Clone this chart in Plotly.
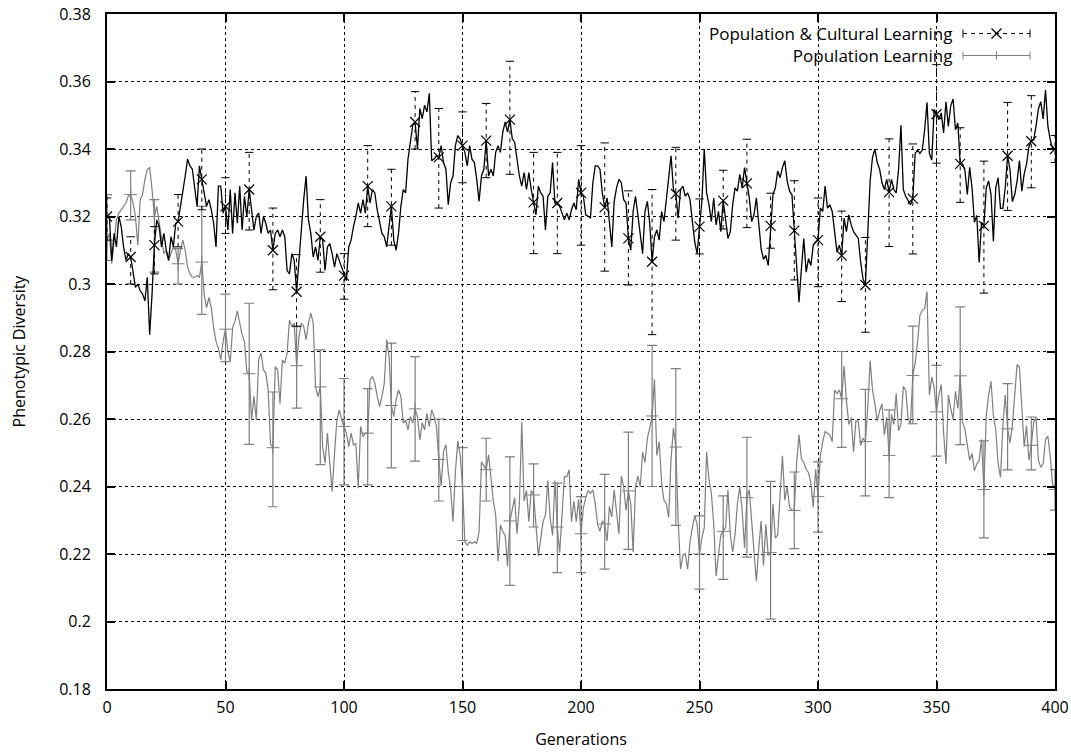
import plotly.graph_objects as go

# ---------------- data ----------------
generations = list(range(401))

# Population & Cultural Learning (black)
pc_values = [
    0.320, 0.320, 0.307, 0.315, 0.311, 0.320, 0.317, 0.311, 0.307, 0.309,
    0.308, 0.303, 0.299, 0.300, 0.298, 0.297, 0.295, 0.302, 0.285, 0.297,
    0.3115, 0.319, 0.317, 0.311, 0.315, 0.310, 0.307, 0.314, 0.311, 0.318,
    0.3185, 0.323, 0.327, 0.332, 0.337, 0.335, 0.334, 0.328, 0.323, 0.335,
    0.331, 0.326, 0.323, 0.325, 0.322, 0.318, 0.311, 0.329, 0.329, 0.321,
    0.323, 0.316, 0.328, 0.315, 0.327, 0.318, 0.329, 0.316, 0.326, 0.320,
    0.328, 0.322, 0.316, 0.320, 0.321, 0.315, 0.320, 0.318, 0.315, 0.316,
    0.310, 0.315, 0.316, 0.314, 0.316, 0.314, 0.304, 0.303, 0.309, 0.307,
    0.2977, 0.307, 0.317, 0.325, 0.332, 0.319, 0.315, 0.308, 0.311, 0.307,
    0.314, 0.313, 0.304, 0.311, 0.312, 0.309, 0.305, 0.309, 0.307, 0.305,
    0.3025, 0.301, 0.311, 0.313, 0.317, 0.320, 0.324, 0.321, 0.325, 0.321,
    0.329, 0.324, 0.328, 0.327, 0.322, 0.318, 0.315, 0.314, 0.311, 0.317,
    0.323, 0.313, 0.310, 0.315, 0.323, 0.328, 0.327, 0.337, 0.342, 0.347,
    0.348, 0.340, 0.352, 0.349, 0.353, 0.351, 0.3565, 0.3365, 0.337, 0.338,
    0.3375, 0.341, 0.336, 0.334, 0.3235, 0.330, 0.332, 0.341, 0.344, 0.343,
    0.341, 0.339, 0.335, 0.341, 0.337, 0.336, 0.331, 0.3245, 0.332, 0.334,
    0.3425, 0.332, 0.334, 0.332, 0.339, 0.341, 0.339, 0.345, 0.348, 0.345,
    0.3487, 0.343, 0.342, 0.337, 0.332, 0.329, 0.333, 0.328, 0.333, 0.328,
    0.3242, 0.3205, 0.329, 0.327, 0.326, 0.316, 0.326, 0.327, 0.336, 0.324,
    0.324, 0.323, 0.321, 0.319, 0.321, 0.319, 0.322, 0.324, 0.322, 0.331,
    0.327, 0.326, 0.3205, 0.320, 0.3196, 0.330, 0.335, 0.335, 0.334, 0.327,
    0.3227, 0.3255, 0.318, 0.311, 0.3245, 0.3285, 0.331, 0.330, 0.325, 0.324,
    0.3135, 0.310, 0.3215, 0.326, 0.3205, 0.3155, 0.309, 0.3215, 0.3245, 0.318,
    0.3066, 0.314, 0.316, 0.313, 0.3215, 0.3185, 0.3255, 0.332, 0.338, 0.328,
    0.3267, 0.3195, 0.328, 0.329, 0.326, 0.327, 0.325, 0.3185, 0.3125, 0.309,
    0.317, 0.3245, 0.340, 0.327, 0.3235, 0.3185, 0.3255, 0.3175, 0.3215, 0.3155,
    0.3247, 0.3195, 0.3135, 0.3155, 0.3235, 0.3285, 0.3275, 0.3325, 0.3285, 0.3345,
    0.3298, 0.3255, 0.3185, 0.3205, 0.3255, 0.3175, 0.3105, 0.3073, 0.3085, 0.3055,
    0.3172, 0.3265, 0.3285, 0.3335, 0.3315, 0.3345, 0.3365, 0.3305, 0.3275, 0.3265,
    0.3158, 0.3035, 0.2946, 0.3045, 0.3135, 0.3035, 0.3075, 0.3055, 0.3115, 0.3125,
    0.313, 0.3225, 0.3215, 0.329, 0.3225, 0.3235, 0.3215, 0.3155, 0.3095, 0.3115,
    0.3084, 0.3195, 0.3155, 0.3205, 0.3175, 0.3155, 0.3145, 0.3135, 0.3065, 0.3015,
    0.2997, 0.3155, 0.3305, 0.3375, 0.340, 0.336, 0.334, 0.330, 0.328, 0.331,
    0.3272, 0.331, 0.328, 0.327, 0.334, 0.347, 0.328, 0.326, 0.3245, 0.3235,
    0.3253, 0.3387, 0.3397, 0.3387, 0.3397, 0.3457, 0.3538, 0.3387, 0.3367, 0.3518,
    0.3503, 0.3487, 0.3507, 0.3448, 0.354, 0.3467, 0.3528, 0.3548, 0.3457, 0.3477,
    0.3356, 0.3356, 0.3336, 0.3265, 0.3346, 0.3285, 0.3183, 0.3203, 0.3064, 0.3183,
    0.3172, 0.3285, 0.3305, 0.3265, 0.3127, 0.3285, 0.3315, 0.3224, 0.3224, 0.3285,
    0.338, 0.334, 0.3244, 0.3265, 0.3305, 0.3366, 0.3275, 0.3326, 0.3356, 0.3407,
    0.3423, 0.3427, 0.3468, 0.3519, 0.354, 0.3489, 0.3575, 0.3468, 0.3427, 0.340,
    0.340,
]

# Population Learning (gray)
pl_values = [
    0.313, 0.315, 0.306, 0.313, 0.319, 0.321, 0.322, 0.323, 0.324, 0.326,
    0.3265, 0.324, 0.320, 0.3115, 0.325, 0.3265, 0.331, 0.334, 0.3345, 0.328,
    0.320, 0.323, 0.318, 0.314, 0.309, 0.310, 0.307, 0.309, 0.311, 0.310,
    0.306, 0.310, 0.313, 0.310, 0.305, 0.303, 0.302, 0.302, 0.3025, 0.302,
    0.3065, 0.297, 0.293, 0.296, 0.293, 0.287, 0.283, 0.281, 0.2776, 0.283,
    0.2866, 0.280, 0.277, 0.287, 0.289, 0.292, 0.288, 0.285, 0.283, 0.274,
    0.2734, 0.2597, 0.2667, 0.2597, 0.2776, 0.2796, 0.2746, 0.2736, 0.2686, 0.2525,
    0.2515, 0.2755, 0.2745, 0.2645, 0.2775, 0.2765, 0.2795, 0.2893, 0.2874, 0.2884,
    0.2758, 0.2844, 0.2884, 0.2874, 0.2835, 0.2884, 0.2914, 0.2884, 0.2696, 0.2666,
    0.2695, 0.2517, 0.2469, 0.2558, 0.2469, 0.2385, 0.2499, 0.2597, 0.2627, 0.2597,
    0.2578, 0.2558, 0.2518, 0.2558, 0.2523, 0.2528, 0.2395, 0.2578, 0.2548, 0.2558,
    0.2558, 0.2716, 0.2726, 0.2706, 0.2667, 0.2637, 0.2667, 0.2706, 0.2835, 0.2785,
    0.264, 0.2607, 0.2657, 0.2686, 0.2667, 0.2588, 0.2597, 0.2568, 0.2607, 0.2588,
    0.263, 0.2607, 0.2538, 0.2588, 0.2568, 0.2617, 0.2578, 0.2627, 0.2607, 0.2578,
    0.248, 0.2402, 0.2504, 0.2524, 0.2443, 0.2392, 0.2296, 0.2443, 0.2535, 0.2494,
    0.240, 0.2236, 0.2226, 0.2236, 0.2231, 0.2236, 0.2231, 0.2266, 0.2473, 0.2463,
    0.245, 0.2494, 0.2433, 0.2357, 0.2316, 0.2179, 0.2286, 0.2266, 0.2255, 0.2164,
    0.2298, 0.2337, 0.2367, 0.2260, 0.2347, 0.259, 0.2357, 0.2388, 0.2296, 0.2388,
    0.2375, 0.2286, 0.2194, 0.2245, 0.2296, 0.2316, 0.2418, 0.2306, 0.2255, 0.2418,
    0.228, 0.2204, 0.2337, 0.2429, 0.2429, 0.2449, 0.2296, 0.2357, 0.2296, 0.2362,
    0.226, 0.2337, 0.2367, 0.2388, 0.238, 0.2390, 0.2349, 0.2288, 0.2267, 0.2298,
    0.2289, 0.2239, 0.2341, 0.2310, 0.2390, 0.2318, 0.2259, 0.2431, 0.240, 0.2329,
    0.2387, 0.2349, 0.2206, 0.240, 0.2431, 0.240, 0.2502, 0.2471, 0.2543, 0.2573,
    0.2609, 0.2717, 0.2492, 0.2533, 0.2410, 0.2359, 0.2349, 0.2308, 0.2482, 0.2573,
    0.2517, 0.2298, 0.2155, 0.2196, 0.2201, 0.2155, 0.2237, 0.2278, 0.2314, 0.2288,
    0.220, 0.2247, 0.2278, 0.2502, 0.2420, 0.2380, 0.2288, 0.2135, 0.2196, 0.2257,
    0.2267, 0.2278, 0.2390, 0.2257, 0.2206, 0.2257, 0.2349, 0.240, 0.2329, 0.2218,
    0.2367, 0.2390, 0.2298, 0.2196, 0.212, 0.2216, 0.2298, 0.2165, 0.2288, 0.2196,
    0.2204, 0.2349, 0.2247, 0.2257, 0.2359, 0.2491, 0.2359, 0.240, 0.2339, 0.2329,
    0.2329, 0.2471, 0.2553, 0.2482, 0.2471, 0.2451, 0.2441, 0.2410, 0.2339, 0.2451,
    0.237, 0.2492, 0.2533, 0.2563, 0.2558, 0.2553, 0.2533, 0.2686, 0.2676, 0.2686,
    0.266, 0.2757, 0.2655, 0.2584, 0.2604, 0.2502, 0.2594, 0.2594, 0.2522, 0.2543,
    0.2533, 0.2635, 0.2773, 0.2686, 0.2645, 0.2594, 0.2624, 0.2645, 0.2553, 0.2604,
    0.2492, 0.2614, 0.2584, 0.2676, 0.2565, 0.2584, 0.2696, 0.2686, 0.2604, 0.2584,
    0.2729, 0.2765, 0.2827, 0.2907, 0.2922, 0.2927, 0.2978, 0.2672, 0.2724, 0.2694,
    0.2621, 0.2671, 0.2702, 0.2559, 0.2467, 0.2671, 0.2631, 0.260, 0.2682, 0.2631,
    0.2728, 0.2590, 0.2569, 0.2529, 0.2478, 0.2498, 0.2447, 0.2467, 0.2478, 0.2539,
    0.2391, 0.2610, 0.2671, 0.2712, 0.2610, 0.2569, 0.2467, 0.2427, 0.2580, 0.2671,
    0.2571, 0.2529, 0.2580, 0.2671, 0.2761, 0.2753, 0.2620, 0.2518, 0.2580, 0.2478,
    0.2522, 0.2590, 0.2605, 0.2478, 0.2457, 0.2467, 0.2539, 0.2549, 0.2488, 0.2406,
    0.2391,
]

# error bar ends, every 10 generations
bar_generations = list(range(0, 401, 10))
pc_upper = [0.3255, 0.314, 0.317, 0.3265, 0.340, 0.3315, 0.339, 0.3225, 0.3087, 0.325,
            0.309, 0.341, 0.334, 0.357, 0.352, 0.351, 0.3535, 0.366, 0.339, 0.339,
            0.341, 0.3418, 0.3276, 0.328, 0.3405, 0.3252, 0.3337, 0.3429, 0.3269, 0.3306,
            0.3255, 0.3216, 0.3138, 0.343, 0.3415, 0.365, 0.3463, 0.3364, 0.3538, 0.3558,
            0.344]
pc_lower = [0.313, 0.300, 0.303, 0.311, 0.322, 0.315, 0.316, 0.2983, 0.2875, 0.3035,
            0.2955, 0.317, 0.3115, 0.340, 0.3225, 0.330, 0.3315, 0.3325, 0.309, 0.309,
            0.3115, 0.3038, 0.2997, 0.285, 0.313, 0.3089, 0.3163, 0.3167, 0.3106, 0.3012,
            0.2992, 0.2948, 0.2857, 0.3111, 0.3089, 0.3358, 0.3242, 0.2973, 0.3218, 0.3285,
            0.336]
pl_upper = [0.3265, 0.3335, 0.325, 0.3105, 0.323, 0.297, 0.2943, 0.268, 0.2874, 0.2805,
            0.272, 0.269, 0.2825, 0.2785, 0.260, 0.2515, 0.2543, 0.2488, 0.2467, 0.241,
            0.237, 0.2436, 0.2561, 0.2818, 0.2749, 0.2313, 0.2372, 0.2546, 0.2415, 0.2443,
            0.2473, 0.280, 0.2688, 0.2627, 0.2875, 0.2759, 0.2932, 0.2535, 0.2705, 0.2606,
            0.245]
pl_lower = [0.307, 0.319, 0.3035, 0.300, 0.291, 0.277, 0.2525, 0.234, 0.2632, 0.2465,
            0.2405, 0.2405, 0.2455, 0.2475, 0.2357, 0.224, 0.2357, 0.2107, 0.228, 0.2145,
            0.2145, 0.2155, 0.2214, 0.240, 0.2285, 0.2096, 0.2125, 0.2191, 0.2007, 0.2216,
            0.2265, 0.2516, 0.2372, 0.2367, 0.2586, 0.249, 0.2524, 0.2248, 0.2449, 0.2449,
            0.233]

x_ticks = [0, 50, 100, 150, 200, 250, 300, 350, 400]
y_ticks = [0.18, 0.20, 0.22, 0.24, 0.26, 0.28, 0.30, 0.32, 0.34, 0.36, 0.38]
y_tick_labels = ["0.18", "0.2", "0.22", "0.24", "0.26", "0.28", "0.3", "0.32", "0.34", "0.36", "0.38"]

series_names = ["Population & Cultural Learning", "Population Learning"]

# ---------------- figure ----------------
FONT = "Open Sans"
GRAY = "#7f7f7f"

pc_at = [pc_values[g] for g in bar_generations]
pl_at = [pl_values[g] for g in bar_generations]

fig = go.Figure()

# gray series line
fig.add_trace(go.Scatter(x=generations, y=pl_values, mode="lines",
                         line=dict(color=GRAY, width=1.2), hoverinfo="skip"))
# gray error bars + points
fig.add_trace(go.Scatter(
    x=bar_generations, y=pl_at, mode="markers",
    marker=dict(symbol="cross-thin", size=9, color=GRAY, line=dict(color=GRAY, width=1)),
    error_y=dict(type="data", symmetric=False,
                 array=[u - v for u, v in zip(pl_upper, pl_at)],
                 arrayminus=[v - l for l, v in zip(pl_lower, pl_at)],
                 color=GRAY, thickness=1.2, width=5),
))

# black series line
fig.add_trace(go.Scatter(x=generations, y=pc_values, mode="lines",
                         line=dict(color="black", width=1.3), hoverinfo="skip"))
# black dashed error bars
bx, by = [], []
for g, lo, hi in zip(bar_generations, pc_lower, pc_upper):
    bx += [g, g, None]
    by += [lo, hi, None]
fig.add_trace(go.Scatter(x=bx, y=by, mode="lines",
                         line=dict(color="black", width=1, dash="4px,4px")))
# black caps
fig.add_trace(go.Scatter(x=bar_generations + bar_generations, y=pc_upper + pc_lower,
                         mode="markers",
                         marker=dict(symbol="line-ew", size=6, line=dict(color="black", width=1))))
# black x markers
fig.add_trace(go.Scatter(x=bar_generations, y=pc_at, mode="markers",
                         marker=dict(symbol="x-thin", size=10, line=dict(color="black", width=1.2))))

# ---------------- manual gnuplot-style key ----------------
W_PLOT, H_PLOT = 948.0, 675.0
TOP = 14.0
def px_x(p):
    return p / W_PLOT
def px_y(p):
    return p / H_PLOT
def row_y(py):
    # pixel row (from the top of the picture) -> paper y
    return 1 - (py - TOP) / H_PLOT

text_x = 1 - px_x(1055 - 953)
s0, s1 = 1 - px_x(1055 - 963), 1 - px_x(1055 - 1030)
sc = (s0 + s1) / 2
row_centers = [row_y(33.5), row_y(55.5)]
shapes = []
annotations = [dict(xref="paper", yref="paper", x=text_x, y=row_y(44.5),
                    text="<br>".join(series_names), align="right",
                    showarrow=False, xanchor="right", yanchor="middle", borderpad=0,
                    font=dict(family=FONT, size=17, color="black"))]
for i, yk in enumerate(row_centers):
    col = "black" if i == 0 else GRAY
    dash = "4px,4px" if i == 0 else "solid"
    shapes.append(dict(type="line", xref="paper", yref="paper", x0=s0, x1=s1, y0=yk, y1=yk,
                       line=dict(color=col, width=1, dash=dash)))
    for xe in (s0, s1):
        shapes.append(dict(type="line", xref="paper", yref="paper", x0=xe, x1=xe,
                           y0=yk - px_y(4), y1=yk + px_y(4), line=dict(color=col, width=1)))
    if i == 0:
        d = 5
        shapes.append(dict(type="line", xref="paper", yref="paper",
                           x0=sc - px_x(d), x1=sc + px_x(d), y0=yk - px_y(d), y1=yk + px_y(d),
                           line=dict(color="black", width=1.2)))
        shapes.append(dict(type="line", xref="paper", yref="paper",
                           x0=sc - px_x(d), x1=sc + px_x(d), y0=yk + px_y(d), y1=yk - px_y(d),
                           line=dict(color="black", width=1.2)))
    else:
        d = 4
        shapes.append(dict(type="line", xref="paper", yref="paper",
                           x0=sc, x1=sc, y0=yk - px_y(d), y1=yk + px_y(d),
                           line=dict(color=GRAY, width=1)))

fig.update_layout(
    width=1071, height=752,
    margin=dict(l=107, r=16, t=14, b=63),
    paper_bgcolor="white", plot_bgcolor="white",
    showlegend=False, hovermode=False,
    font=dict(family=FONT, size=16, color="black"),
    shapes=shapes, annotations=annotations,
)
fig.update_xaxes(
    range=[0, 400], tickvals=x_ticks, ticks="inside", ticklen=8, tickwidth=1.5,
    tickcolor="black", showline=True, linecolor="black", linewidth=2, mirror="allticks",
    showgrid=True, gridcolor="black", gridwidth=1, griddash="dot", zeroline=False,
    tickfont=dict(family=FONT, size=16), ticklabelstandoff=3, automargin=False,
    title=dict(text="Generations", font=dict(family=FONT, size=16), standoff=17),
)
fig.update_yaxes(
    range=[0.18, 0.38], tickvals=y_ticks, ticktext=y_tick_labels, ticks="inside",
    ticklen=8, tickwidth=1.5, tickcolor="black", showline=True, linecolor="black",
    linewidth=2, mirror="allticks", showgrid=True, gridcolor="black", gridwidth=1,
    griddash="dot", zeroline=False, tickfont=dict(family=FONT, size=16),
    ticklabelstandoff=11, automargin=False,
    title=dict(text="Phenotypic Diversity", font=dict(family=FONT, size=16), standoff=30),
)

fig.write_html("out.html", config={"displayModeBar": False},
               post_script="document.body.style.margin='0';document.body.style.overflow='hidden';")
